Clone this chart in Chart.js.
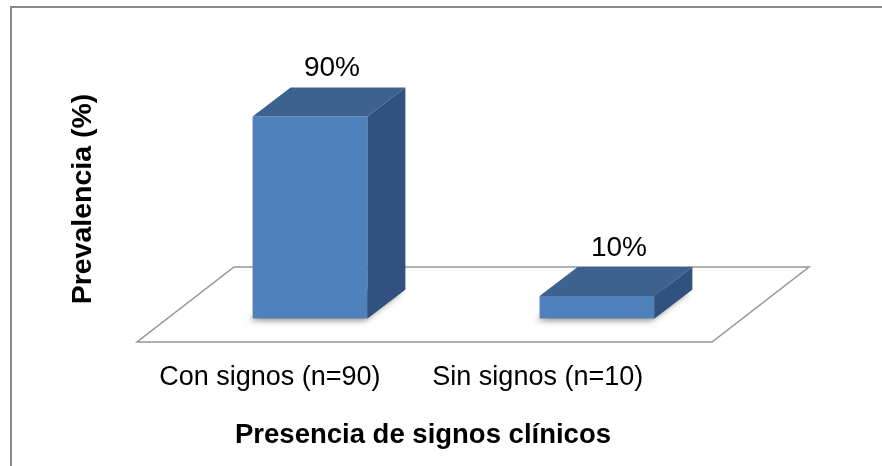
<!DOCTYPE html>
<html>
<head>
<meta charset="utf-8">
<script src="https://cdn.jsdelivr.net/npm/chart.js@4.4.0/dist/chart.umd.min.js"></script>
<style>
  html, body { margin: 0; padding: 0; background: #fff; }
  #wrap { width: 882px; height: 466px; position: relative; }
</style>
</head>
<body>
<div id="wrap"><canvas id="chart" width="882" height="466"></canvas></div>
<script>
// --- datos ---
const categories = ['Con signos (n=90)', 'Sin signos (n=10)'];
const prevalence = [90, 10];
const xTitle = 'Presencia de signos clínicos';
const yTitle = 'Prevalencia (%)';

// --- estilo 3D ---
const FRONT = '#4F81BD';
const TOP = '#3D6290';
const SIDE = '#31517E';
const DEPTH = { dx: 38, dy: -29 };      // profundidad de la barra
const FLOOR = { dx: 97, dy: -75 };      // profundidad del piso
const FONT = '"Liberation Sans", Arial, sans-serif';

const threeD = {
  id: 'threeD',
  beforeDatasetsDraw(chart) {
    const { ctx, chartArea: a } = chart;
    ctx.save();
    // marco del gráfico
    ctx.strokeStyle = '#8a8a8a';
    ctx.lineWidth = 2;
    ctx.strokeRect(11, 7, 900, 500);

    // piso
    const fl = a.left - 29.5, fr = a.right - 28.5, fy = a.bottom + 23.5;
    ctx.beginPath();
    ctx.moveTo(fl, fy);
    ctx.lineTo(fr, fy);
    ctx.lineTo(fr + FLOOR.dx, fy + FLOOR.dy);
    ctx.lineTo(fl + FLOOR.dx, fy + FLOOR.dy);
    ctx.closePath();
    ctx.fillStyle = '#ffffff';
    ctx.fill();
    ctx.strokeStyle = '#959595';
    ctx.lineWidth = 1.5;
    ctx.stroke();

    // sombras bajo las barras
    const meta = chart.getDatasetMeta(0);
    meta.data.forEach(bar => {
      const l = bar.x - bar.width / 2, r = bar.x + bar.width / 2, b = bar.base;
      ctx.save();
      ctx.shadowColor = 'rgba(0,0,0,0.45)';
      ctx.shadowBlur = 6;
      ctx.shadowOffsetX = -3;
      ctx.shadowOffsetY = 2;
      ctx.fillStyle = '#8c8c8c';
      ctx.beginPath();
      ctx.moveTo(l, b);
      ctx.lineTo(r, b);
      ctx.lineTo(r + DEPTH.dx, b + DEPTH.dy);
      ctx.lineTo(l + DEPTH.dx, b + DEPTH.dy);
      ctx.closePath();
      ctx.fill();
      ctx.restore();
    });
    ctx.restore();
  },
  afterDatasetsDraw(chart) {
    const { ctx, chartArea: a } = chart;
    const meta = chart.getDatasetMeta(0);
    ctx.save();
    meta.data.forEach((bar, i) => {
      const l = bar.x - bar.width / 2, r = bar.x + bar.width / 2;
      const t = bar.y, b = bar.base;
      // cara superior
      ctx.fillStyle = TOP;
      ctx.beginPath();
      ctx.moveTo(l, t);
      ctx.lineTo(l + DEPTH.dx, t + DEPTH.dy);
      ctx.lineTo(r + DEPTH.dx, t + DEPTH.dy);
      ctx.lineTo(r, t);
      ctx.closePath();
      ctx.fill();
      // cara lateral
      ctx.fillStyle = SIDE;
      ctx.beginPath();
      ctx.moveTo(r, t);
      ctx.lineTo(r + DEPTH.dx, t + DEPTH.dy);
      ctx.lineTo(r + DEPTH.dx, b + DEPTH.dy);
      ctx.lineTo(r, b);
      ctx.closePath();
      ctx.fill();
      // etiqueta de valor
      ctx.fillStyle = '#000';
      ctx.font = '28px ' + FONT;
      ctx.textAlign = 'center';
      ctx.textBaseline = 'middle';
      ctx.fillText(prevalence[i] + '%', bar.x + DEPTH.dx / 2 + 3, t + DEPTH.dy - 19);
    });

    // etiquetas de categoría
    const fl = a.left - 29.5, fr = a.right - 28.5;
    const w = fr - fl;
    ctx.font = '27px ' + FONT;
    ctx.textAlign = 'center';
    ctx.textBaseline = 'middle';
    const pos = [0.231, 0.697];
    categories.forEach((c, i) => {
      ctx.fillText(c, fl + w * pos[i], a.bottom + 59);
    });

    // título eje X
    ctx.font = 'bold 27.5px ' + FONT;
    ctx.fillText(xTitle, 423, a.bottom + 117);

    // título eje Y
    ctx.save();
    ctx.translate(83, 199);
    ctx.rotate(-Math.PI / 2);
    ctx.font = 'bold 28.5px ' + FONT;
    ctx.fillText(yTitle, 0, 0);
    ctx.restore();
    ctx.restore();
  }
};

new Chart(document.getElementById('chart'), {
  type: 'bar',
  data: {
    labels: categories,
    datasets: [{
      data: prevalence,
      backgroundColor: FRONT,
      borderWidth: 0,
      barPercentage: 0.8,
      categoryPercentage: 0.5
    }]
  },
  options: {
    responsive: false,
    animation: false,
    layout: { padding: { left: 166.5, right: 141.5, top: 94, bottom: 147.5 } },
    scales: {
      x: { display: false },
      y: { display: false, min: 0, max: 100 }
    },
    plugins: {
      legend: { display: false },
      tooltip: { enabled: false }
    }
  },
  plugins: [threeD]
});
</script>
</body>
</html>
